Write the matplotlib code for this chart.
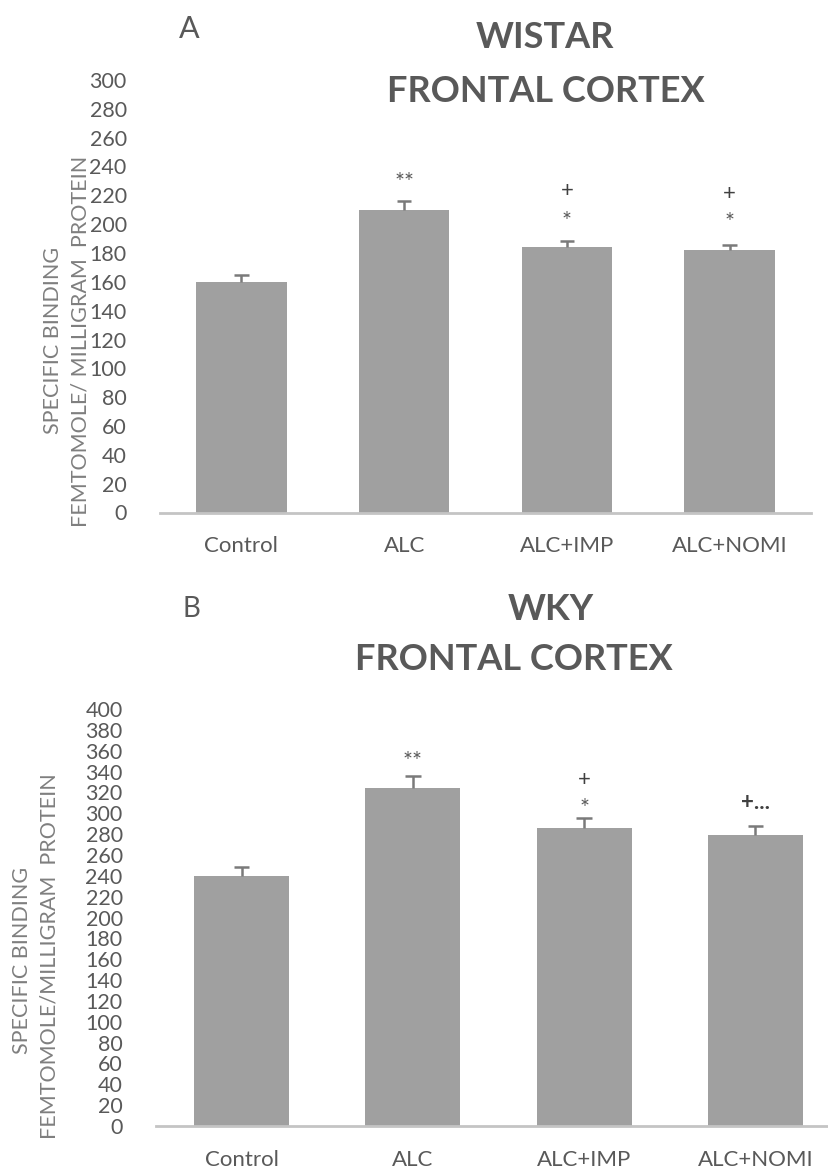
import numpy as np
import matplotlib.pyplot as plt

plt.rcParams['font.family'] = ['Lato', 'DejaVu Sans']

groups = ['Control', 'ALC', 'ALC+IMP', 'ALC+NOMI']

# panel A - Wistar
wistar_mean = [160, 210, 184, 182]
wistar_err = [5, 6, 4.5, 3.5]
wistar_marks = ['', '**', '*', '*']
wistar_plus = ['', '', '+', '+']

# panel B - WKY
wky_mean = [240, 324, 286, 279]
wky_err = [8, 12, 9, 9]
wky_marks = ['', '**', '*', '']
wky_plus = ['', '', '+', '+...']

W, H = 829, 1171
BAR = '#a0a0a0'
TXT = '#595959'
LBL = '#7f7f7f'

fig = plt.figure(figsize=(W / 100, H / 100), dpi=100)


def px_axes(left, right, top, bottom):
    return fig.add_axes([left / W, 1 - bottom / H, (right - left) / W, (bottom - top) / H])


def draw_panel(ax, means, errs, ymax, marks, pluses, star_y, plus_y):
    x = np.arange(len(groups))
    tops = np.array(means) + np.array(errs)
    ax.bar(x, means, width=0.555, color=BAR, zorder=2)
    # upper error bar only, T-shaped
    ax.vlines(x, means, tops, color='#7a7a7a', lw=1.8, zorder=3)
    ax.hlines(tops, x - 0.045, x + 0.045, color='#7a7a7a', lw=1.8, zorder=3)
    ax.set_xlim(-0.5, 3.5)
    ax.set_ylim(0, ymax)
    ax.set_yticks(np.arange(0, ymax + 1, 20))
    ax.set_xticks(x)
    ax.set_xticklabels(groups)
    ax.tick_params(axis='y', length=0, pad=24, labelsize=15.5, labelcolor=TXT)
    ax.tick_params(axis='x', length=0, pad=17, labelsize=16, labelcolor=TXT)
    for s in ['top', 'right', 'left']:
        ax.spines[s].set_visible(False)
    ax.spines['bottom'].set_color('#c4c4c4')
    ax.spines['bottom'].set_linewidth(2)
    for i in range(len(groups)):
        if marks[i]:
            ax.text(x[i], star_y[i], marks[i], ha='center', va='center', fontsize=17, color=TXT)
        if pluses[i]:
            ax.text(x[i], plus_y[i], pluses[i], ha='center', va='center', fontsize=16,
                    color='#404040', fontweight='bold' if '.' in pluses[i] else 'normal')


# ---- panel A
axA = px_axes(160, 811, 80, 512.5)
draw_panel(axA, wistar_mean, wistar_err, 300, wistar_marks, wistar_plus,
           [0, 229, 202, 201], [0, 0, 223, 221])
fig.text(189 / W, 1 - 29 / H, 'A', ha='center', va='center', fontsize=22, color=TXT)
fig.text(545 / W, 1 - 38 / H, 'WISTAR', ha='center', va='center', fontsize=26,
         fontweight='bold', color=TXT)
fig.text(546 / W, 1 - 92 / H, 'FRONTAL CORTEX', ha='center', va='center', fontsize=26,
         fontweight='bold', color=TXT)
fig.text(53 / W, 1 - 340 / H, 'SPECIFIC BINDING', rotation=90, ha='center', va='center',
         fontsize=15.5, color=LBL)
fig.text(81 / W, 1 - 341 / H, 'FEMTOMOLE/ MILLIGRAM  PROTEIN', rotation=90, ha='center',
         va='center', fontsize=15.5, color=LBL)

# ---- panel B
axB = px_axes(156, 841, 709, 1126)
draw_panel(axB, wky_mean, wky_err, 400, wky_marks, wky_plus,
           [0, 350, 305, 0], [0, 0, 332, 310])
fig.text(191 / W, 1 - 609 / H, 'B', ha='center', va='center', fontsize=20, color=TXT)
fig.text(551 / W, 1 - 609 / H, 'WKY', ha='center', va='center', fontsize=26,
         fontweight='bold', color=TXT)
fig.text(514 / W, 1 - 660 / H, 'FRONTAL CORTEX', ha='center', va='center', fontsize=26,
         fontweight='bold', color=TXT)
fig.text(22 / W, 1 - 960 / H, 'SPECIFIC BINDING', rotation=90, ha='center', va='center',
         fontsize=15.5, color=LBL)
fig.text(50 / W, 1 - 956 / H, 'FEMTOMOLE/MILLIGRAM  PROTEIN', rotation=90, ha='center',
         va='center', fontsize=15.5, color=LBL)

fig.savefig('out.png', dpi=100)
